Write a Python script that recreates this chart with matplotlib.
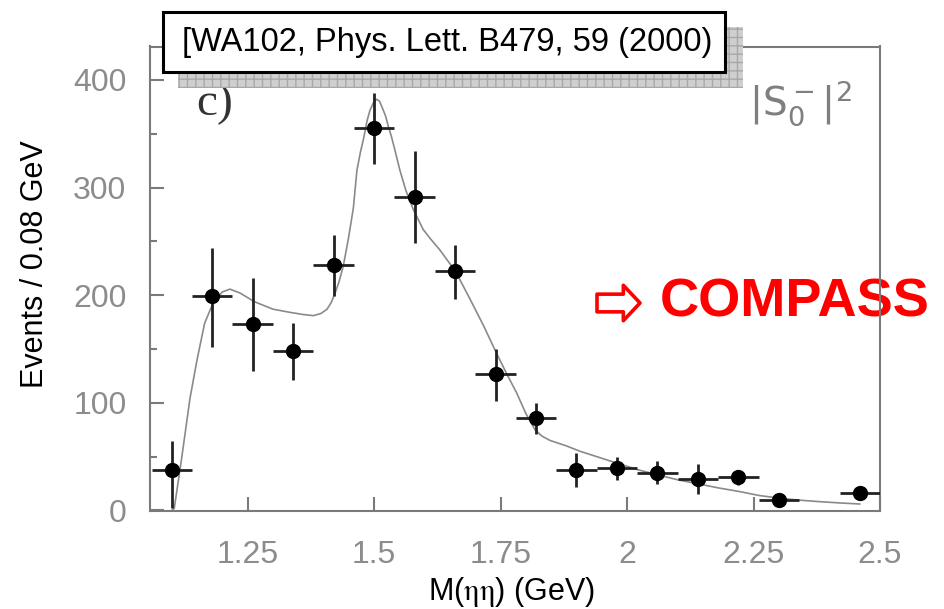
import matplotlib
matplotlib.use("Agg")
import matplotlib.pyplot as plt
from matplotlib.patches import Rectangle
from matplotlib.ticker import MultipleLocator

# measured points (bin centres, 0.08 GeV bins)
mass = [1.10, 1.18, 1.26, 1.34, 1.42, 1.50, 1.58, 1.66, 1.74, 1.82,
        1.90, 1.98, 2.06, 2.14, 2.22, 2.30, 2.46]
events = [37.6, 199, 173, 148.5, 228, 355, 291, 222, 127, 86,
          38, 39, 35, 29, 31, 10, 16]
err_lo = [35, 47, 43, 27, 29, 33, 43, 26, 25, 15, 16, 11, 10.5, 14, 7, 6, 6]
err_hi = [27, 45, 43, 26, 28, 33, 43, 25, 23, 14, 15, 11, 11, 14, 7, 6, 6]
half_bin = 0.04

# fit curve
fit_m = [1.100, 1.105, 1.120, 1.136, 1.150, 1.165, 1.182, 1.200, 1.215, 1.235,
         1.263, 1.300, 1.334, 1.360, 1.380, 1.395, 1.407, 1.415, 1.423, 1.431,
         1.439, 1.449, 1.459, 1.466, 1.473, 1.479, 1.486, 1.492, 1.499, 1.505,
         1.511, 1.518, 1.523, 1.528, 1.535, 1.541, 1.551, 1.563, 1.578, 1.597,
         1.612, 1.630, 1.661, 1.690, 1.716, 1.740, 1.762, 1.782, 1.800, 1.818,
         1.832, 1.848, 1.880, 1.907, 1.940, 1.980, 2.020, 2.061, 2.100, 2.142,
         2.180, 2.223, 2.260, 2.302, 2.340, 2.380, 2.420, 2.460]
fit_v = [0, 2, 50, 104, 140, 174, 193, 203, 205.6, 202,
         194, 187, 184, 182, 181, 183, 187, 193, 202, 213,
         227, 252, 281, 316, 333, 345, 362, 372, 379, 382,
         380, 372, 366, 357, 346, 335, 316, 297, 279, 261,
         252, 242, 222, 196, 172, 148, 127, 109, 90, 75,
         69, 65, 60, 55, 50, 44, 38, 33, 28.5, 24.6,
         21, 17.5, 14, 11.3, 9.6, 8.2, 7, 6]

x_ticks = [1.25, 1.5, 1.75, 2.0, 2.25, 2.5]
x_labels = ["1.25", "1.5", "1.75", "2", "2.25", "2.5"]
y_ticks = [0, 100, 200, 300, 400]

W, H = 944, 609
fig = plt.figure(figsize=(W / 100, H / 100), dpi=100)
ax = fig.add_axes([150 / W, 1 - 511 / H, 730 / W, 464.5 / H])

frame_gray = "#7a7a7a"
label_gray = "#8c8c8c"

# fit line
ax.plot(fit_m, fit_v, color="#8a8a8a", linewidth=1.2, zorder=2)

# data with error bars
ax.errorbar(mass, events, yerr=[err_lo, err_hi], xerr=half_bin,
            fmt="o", color="black", ecolor="#222222", elinewidth=2.0,
            markersize=10, capsize=0, zorder=3)

ax.set_xlim(1.057, 2.5)
ax.set_ylim(-0.5, 431)
ax.set_xticks(x_ticks)
ax.set_xticklabels(x_labels)
ax.set_yticks(y_ticks)
ax.yaxis.set_minor_locator(MultipleLocator(50))

for sp in ax.spines.values():
    sp.set_color(frame_gray)
    sp.set_linewidth(1.5)
ax.tick_params(axis="both", which="major", direction="in", length=10,
               width=1.5, color=frame_gray, labelcolor=label_gray,
               labelsize=23)
ax.tick_params(axis="y", which="minor", direction="in", length=5,
               width=1.5, color=frame_gray)
ax.tick_params(axis="y", which="major", pad=17)
ax.tick_params(axis="x", which="major", pad=21)
for lab in ax.get_xticklabels() + ax.get_yticklabels():
    lab.set_family("Liberation Sans")

# axis titles
fig.text(35 / W, 1 - 264 / H, "Events / 0.08 GeV", rotation=90,
         ha="center", va="center", fontsize=22, family="Liberation Sans")
fig.text(511 / W, 1 - 592 / H, r"M($\mathrm{\eta\eta}$) (GeV)",
         ha="center", va="center", fontsize=22, family="Liberation Sans",
         math_fontfamily="stix")

# panel annotations
fig.text(215 / W, 1 - 104 / H, "c)", ha="center", va="center",
         fontsize=34, family="Liberation Serif", color="#333333")
fig.text(800 / W, 1 - 103 / H, r"$|\mathrm{S}_0^-|^2$", ha="center",
         va="center", fontsize=28, color="#7f7f7f")

# COMPASS note (behind the frame line)
ax.annotate("", xy=(640, H - 303), xytext=(597, H - 303),
            xycoords="figure pixels", textcoords="figure pixels",
            arrowprops=dict(arrowstyle="simple,head_length=0.8,head_width=1.7,tail_width=0.85",
                            mutation_scale=15, facecolor="white",
                            edgecolor="red", linewidth=2.6,
                            shrinkA=0, shrinkB=0))
ax.text(660 / W, 1 - 303 / H, "COMPASS", transform=fig.transFigure,
        ha="left", va="center", fontsize=39, fontweight="bold",
        family="Liberation Sans", color="red", zorder=2, clip_on=False)

# reference box with hatched shadow
shadow = Rectangle((178 / W, 1 - 88 / H), 565 / W, 61 / H,
                   transform=fig.transFigure, facecolor="#cfcfcf",
                   edgecolor="#a8a8a8", hatch="++", linewidth=0, zorder=5)
fig.add_artist(shadow)
box = Rectangle((163 / W, 1 - 72 / H), 562 / W, 60 / H,
                transform=fig.transFigure, facecolor="white",
                edgecolor="black", linewidth=2.2, zorder=6)
fig.add_artist(box)
t = fig.text(182 / W, 1 - 43 / H, "[WA102, Phys. Lett. B479, 59 (2000)",
             ha="left", va="center", fontsize=23.5, family="Liberation Sans",
             color="black")
t.set_zorder(7)

fig.savefig("out.png", dpi=100)
